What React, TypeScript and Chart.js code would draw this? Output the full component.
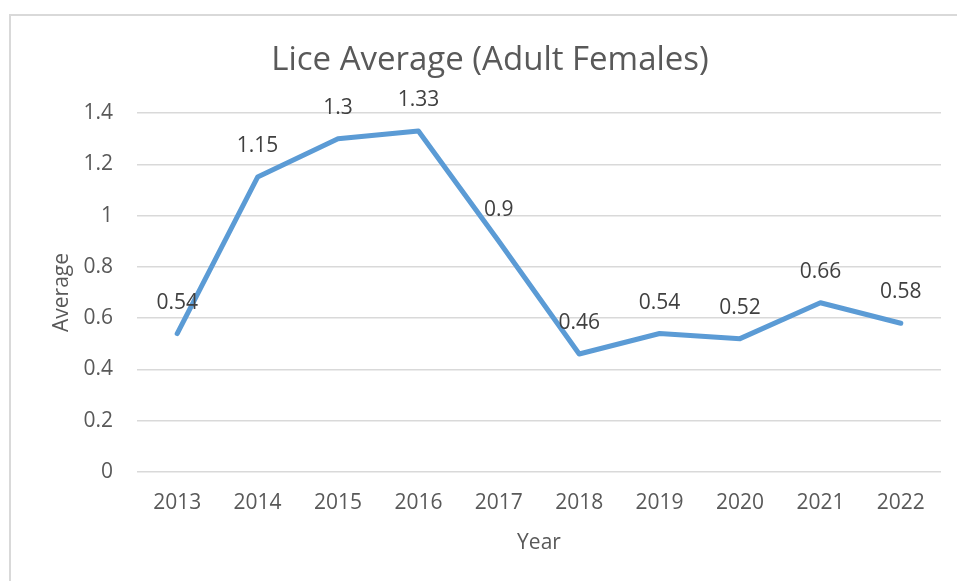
import React, { useEffect, useRef } from "react";
import { Chart, registerables } from "chart.js";

Chart.register(...registerables);

const years = ["2013", "2014", "2015", "2016", "2017", "2018", "2019", "2020", "2021", "2022"];
const liceAverage = [0.54, 1.15, 1.3, 1.33, 0.9, 0.46, 0.54, 0.52, 0.66, 0.58];
const chartTitle = "Lice Average (Adult Females)";
const xTitle = "Year";
const yTitle = "Average";

const FONT = "'Open Sans', 'Noto Sans', sans-serif";

const framePlugin = {
  id: "frame",
  beforeDraw(chart: any) {
    const { ctx, width, height } = chart;
    ctx.save();
    ctx.fillStyle = "#ffffff";
    ctx.fillRect(0, 0, width, height);
    ctx.strokeStyle = "#d9d9d9";
    ctx.lineWidth = 2;
    ctx.beginPath();
    ctx.moveTo(10, height);
    ctx.lineTo(10, 15);
    ctx.lineTo(width, 15);
    ctx.stroke();
    ctx.restore();
  },
};

const labelPlugin = {
  id: "pointLabels",
  afterDatasetsDraw(chart: any) {
    const { ctx } = chart;
    const meta = chart.getDatasetMeta(0);
    const data = chart.data.datasets[0].data as number[];
    ctx.save();
    ctx.font = `21px ${FONT}`;
    ctx.fillStyle = "#404040";
    ctx.textAlign = "center";
    ctx.textBaseline = "middle";
    meta.data.forEach((pt: any, i: number) => {
      ctx.fillText(String(data[i]), pt.x, pt.y - 31);
    });
    ctx.restore();
  },
};

export default function App() {
  const canvasRef = useRef<HTMLCanvasElement | null>(null);

  useEffect(() => {
    if (!canvasRef.current) return;
    const chart = new Chart(canvasRef.current, {
      type: "line",
      data: {
        labels: years,
        datasets: [
          {
            data: liceAverage,
            borderColor: "#5B9BD5",
            backgroundColor: "#5B9BD5",
            borderWidth: 5,
            borderCapStyle: "round",
            borderJoinStyle: "round",
            pointRadius: 0,
            tension: 0,
            fill: false,
          },
        ],
      },
      options: {
        responsive: false,
        animation: false,
        layout: { padding: { left: 39, right: 16, top: 14, bottom: 19 } },
        plugins: {
          legend: { display: false },
          tooltip: { enabled: false },
          title: {
            display: true,
            text: chartTitle,
            color: "#595959",
            font: { family: FONT, size: 33, weight: "normal" },
            padding: { top: 27, bottom: 32.4 },
          },
        },
        scales: {
          x: {
            offset: true,
            grid: { display: false, drawTicks: false },
            border: { display: false },
            ticks: {
              color: "#595959",
              font: { family: FONT, size: 21 },
              padding: 18,
              maxRotation: 0,
            },
            title: {
              display: true,
              text: xTitle,
              color: "#595959",
              font: { family: FONT, size: 21 },
              padding: { top: 0, bottom: 6 },
            },
            afterFit: (scale: any) => {
              scale.height = 90;
            },
          },
          y: {
            min: 0,
            max: 1.4,
            grid: { color: "#d9d9d9", lineWidth: 1.5, drawTicks: false },
            border: { display: false },
            ticks: {
              stepSize: 0.2,
              color: "#595959",
              font: { family: FONT, size: 21 },
              padding: 24,
              callback: (v: any) => String(Math.round(Number(v) * 10) / 10),
            },
            title: {
              display: true,
              text: yTitle,
              color: "#595959",
              font: { family: FONT, size: 21 },
              padding: { top: 10, bottom: 0 },
            },
            afterFit: (scale: any) => {
              scale.width = 98;
            },
          },
        },
      },
      plugins: [framePlugin, labelPlugin],
    });
    return () => chart.destroy();
  }, []);

  return (
    <div style={{ position: "absolute", left: 0, top: 0, width: 957, height: 581, background: "#fff" }}>
      <canvas ref={canvasRef} width={957} height={581} style={{ display: "block" }} />
    </div>
  );
}
